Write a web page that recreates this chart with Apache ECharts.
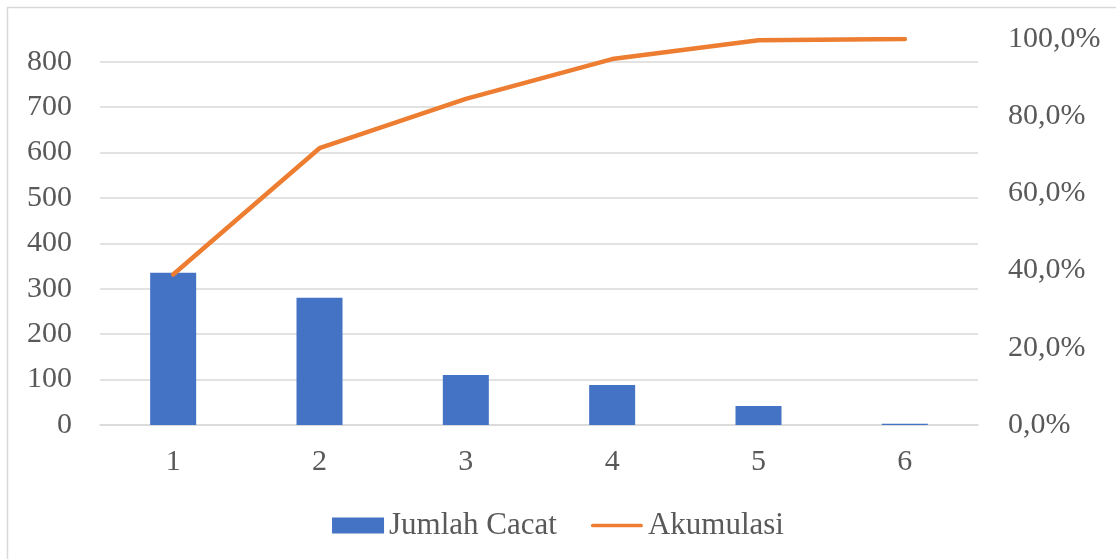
<!DOCTYPE html>
<html>
<head>
    <meta charset="UTF-8">
    <title>Jumlah Cacat</title>
    <script src="https://cdn.jsdelivr.net/npm/echarts@6/dist/echarts.min.js"></script>
    <style>
        html, body { margin: 0; padding: 0; background: #fff; }
        #chart { width: 1116px; height: 559px; }
    </style>
</head>
<body>
    <div id="chart"></div>
    <script type="text/javascript">
        // data
        var categories = ['1', '2', '3', '4', '5', '6'];
        var jumlahCacat = [335, 280, 110, 88, 42, 3];
        var akumulasi = [0.39, 0.717, 0.845, 0.948, 0.997, 1.0];

        var font = 'Liberation Serif, Times New Roman, serif';
        var chart = echarts.init(document.getElementById('chart'));

        var option = {
            animation: false,
            backgroundColor: '#fff',
            graphic: [{
                // outer chart border, cut off at right and bottom like the original
                type: 'rect',
                shape: { x: 7.5, y: 7.5, width: 1130, height: 570 },
                style: { fill: 'none', stroke: '#d9d9d9', lineWidth: 1.5 },
                silent: true
            }],
            legend: {
                bottom: 13,
                left: 'center',
                itemWidth: 52,
                itemHeight: 16,
                itemGap: 34,
                symbolKeepAspect: true,
                textStyle: { fontFamily: font, fontSize: 31, color: '#595959' },
                data: [
                    { name: 'Jumlah Cacat', icon: 'rect' },
                    { name: 'Akumulasi', icon: 'path://M2,0 L54,0 A2,2 0 0 1 54,4 L2,4 A2,2 0 0 1 2,0 Z' }
                ]
            },
            grid: {
                left: 100,
                right: 138,
                top: 39,
                bottom: 134
            },
            xAxis: {
                type: 'category',
                data: categories,
                axisLine: { lineStyle: { color: '#d9d9d9', width: 1.5 } },
                axisTick: { show: false },
                axisLabel: { fontFamily: font, fontSize: 30, color: '#595959', margin: 22 }
            },
            yAxis: [
                {
                    type: 'value',
                    min: 0,
                    max: 850,
                    interval: 100,
                    axisLine: { show: false },
                    axisTick: { show: false },
                    axisLabel: { fontFamily: font, fontSize: 30, color: '#595959', margin: 28, showMaxLabel: false },
                    splitLine: { showMaxLine: false, lineStyle: { color: '#d9d9d9', width: 1.5 } }
                },
                {
                    type: 'value',
                    min: 0,
                    max: 1,
                    interval: 0.2,
                    axisLine: { show: false },
                    axisTick: { show: false },
                    splitLine: { show: false },
                    axisLabel: {
                        fontFamily: font, fontSize: 30, color: '#595959', margin: 30,
                        formatter: function (v) {
                            return (v * 100).toFixed(1).replace('.', ',') + '%';
                        }
                    }
                }
            ],
            series: [
                {
                    name: 'Jumlah Cacat',
                    type: 'bar',
                    barWidth: 46,
                    itemStyle: { color: '#4472c4' },
                    data: jumlahCacat
                },
                {
                    name: 'Akumulasi',
                    type: 'line',
                    yAxisIndex: 1,
                    symbol: 'none',
                    lineStyle: { color: '#ed7d31', width: 4.5, cap: 'round', join: 'round' },
                    itemStyle: { color: '#ed7d31' },
                    data: akumulasi
                }
            ]
        };
        chart.setOption(option);
    </script>
</body>
</html>
